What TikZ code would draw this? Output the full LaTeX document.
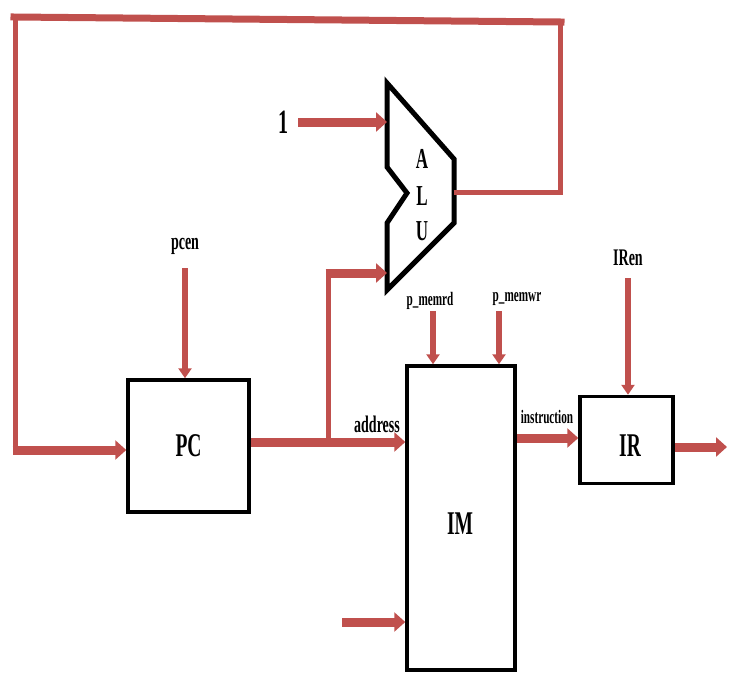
\documentclass[tikz,border=0pt]{standalone}
\usepackage{fontspec}
\setmainfont{Liberation Serif}
\usetikzlibrary{arrows.meta,calc}
\definecolor{wire}{RGB}{192,80,77}
\newcommand{\vst}[1]{\scalebox{1}[1.7]{#1}}
\begin{document}
\begin{tikzpicture}[x=1pt,y=-1pt,
  blk/.style={draw=black, line width=3.5pt, fill=white, inner sep=0pt, font=\bfseries\fontsize{19.5}{20}\selectfont},
  lbl/.style={inner sep=0pt, font=\bfseries\fontsize{14}{15}\selectfont},
  slbl/.style={inner sep=0pt, font=\bfseries\fontsize{11.2}{12}\selectfont},
  loopw/.style={draw=wire, line width=5pt},
  loopt/.style={draw=wire, line width=7pt},
  bus/.style={draw=wire, line width=9pt, -{Triangle[length=11pt,width=19pt]}},
  sig/.style={draw=wire, line width=6pt, -{Triangle[length=10pt,width=13pt]}},
  aluline/.style={draw=black, line width=5pt, line join=miter, fill=white}
]
\useasboundingbox (0,0) rectangle (734,673);

% boxes
\node[blk, minimum width=121pt, minimum height=132pt] (pc) at (188.5,446) {\vst{PC}};
\node[blk, minimum width=108pt, minimum height=304pt] (im) at (461,518) {};
\node[blk, minimum width=93pt, minimum height=87pt] (ir) at (626.5,440) {};
\node[inner sep=0pt, font=\bfseries\fontsize{19.5}{20}\selectfont] (imt) at (460,524) {\vst{IM}};
\node[inner sep=0pt, font=\bfseries\fontsize{19.5}{20}\selectfont] (irt) at (630,446) {\vst{IR}};

% ALU
\coordinate (a1) at (387,83);
\coordinate (a2) at (454,159);
\coordinate (a3) at (454,223);
\coordinate (a4) at (387,290);
\coordinate (a5) at (387,223);
\coordinate (a6) at (407,193);
\coordinate (a7) at (387,167);
\coordinate (aluout) at (454,192);
\coordinate (aluin1) at (387,122);
\coordinate (aluin2) at (387,273);
\draw[aluline] (a1) -- (a2) -- (a3) -- (a4) -- (a5) -- (a6) -- (a7) -- cycle;
\node[inner sep=0pt, font=\bfseries\fontsize{17}{18}\selectfont] (la) at (422,159) {\vst{A}};
\node[inner sep=0pt, font=\bfseries\fontsize{17}{18}\selectfont] (ll) at (422,196) {\vst{L}};
\node[inner sep=0pt, font=\bfseries\fontsize{17}{18}\selectfont] (lu) at (422,231) {\vst{U}};

% feedback loop
\coordinate (rb) at (560,192);
\coordinate (tr) at (560,22);
\coordinate (tl) at (15,17);
\coordinate (lb) at (15,450);
\draw[loopw] (aluout) -- (rb) -- ([yshift=-2pt]tr);
\draw[loopw] ([yshift=-2pt]tl) -- (lb);
\draw[loopt, line cap=rect] ([xshift=-1pt]tl) -- ([xshift=1pt]tr);
\draw[bus] ([xshift=-2.5pt]lb) -- (pc.west |- lb);

% input 1
\node[inner sep=0pt, font=\bfseries\fontsize{20}{21}\selectfont] (one) at (283,122) {\vst{1}};
\coordinate (ones) at (298,122);
\draw[bus] (ones) -- (aluin1);

% PC -> IM address
\coordinate (pcout) at (249,442);
\coordinate (br) at (328,442);
\draw[bus] (pc.east |- pcout) -- (im.west |- pcout);
\draw[loopw] (br) -- (br |- aluin2);
\draw[bus] ([xshift=-2.5pt]br |- aluin2) -- (aluin2);
\node[lbl] (addr) at (377,424) {\vst{address}};

% pcen
\node[lbl] (pcen) at (185,246) {\vst{pcen}};
\coordinate (pcens) at (185,268);
\draw[sig] (pcens) -- (pcens |- pc.north);

% p_memrd / p_memwr
\node[slbl] (rd) at (430,301) {\vst{p\_memrd}};
\node[slbl] (wr) at (517,299) {\vst{p\_memwr}};
\coordinate (rds) at (433,311);
\coordinate (wrs) at (499,311);
\draw[sig] (rds) -- (rds |- im.north);
\draw[sig] (wrs) -- (wrs |- im.north);

% instruction
\coordinate (ins) at (515,438);
\draw[bus] (im.east |- ins) -- (ir.west |- ins);
\node[slbl] (instr) at (547,417) {\vst{instruction}};

% IRen
\node[lbl] (iren) at (628,258) {\vst{IRen}};
\coordinate (irens) at (628,278);
\draw[sig] (irens) -- (irens |- ir.north);

% IR out
\coordinate (irout) at (727,447);
\draw[bus] (ir.east |- irout) -- (irout);

% bottom input into IM
\coordinate (bin) at (342,622);
\draw[bus] (bin) -- (im.west |- bin);
\end{tikzpicture}
\end{document}
